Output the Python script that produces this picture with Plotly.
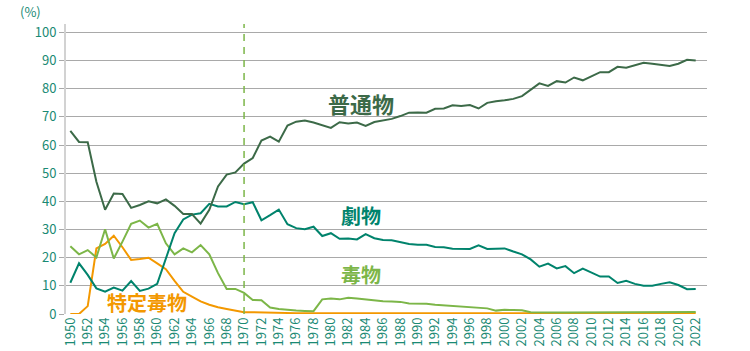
import plotly.graph_objects as go

years = list(range(1950, 2023))

futsu = [65, 61.1, 61, 47, 37, 42.8, 42.6, 37.7, 38.7, 40,
         39.3, 40.7, 38.4, 35.5, 35.5, 32.1, 37, 45.3, 49.5, 50.3,
         53.4, 55.4, 61.6, 63, 61.2, 66.9, 68.3, 68.7, 68, 67,
         66.1, 68.1, 67.7, 68, 66.8, 68.2, 68.8, 69.3, 70.3, 71.5,
         71.6, 71.5, 72.9, 73, 74.1, 73.9, 74.2, 73, 75, 75.6,
         75.9, 76.4, 77.4, 79.6, 81.9, 81, 82.7, 82.2, 84, 83,
         84.5, 85.9, 85.9, 87.8, 87.5, 88.4, 89.2, 88.9, 88.5, 88.1,
         88.9, 90.3, 90]

geki = [11.1, 18, 13.9, 9.1, 7.9, 9.4, 8.3, 11.7, 8.2, 9,
        10.7, 19.5, 28.7, 33.6, 35.3, 35.8, 39.1, 38.2, 38.2, 39.8,
        39, 39.7, 33.3, 35.1, 37.1, 31.9, 30.5, 30.1, 31, 27.7,
        28.7, 26.7, 26.8, 26.5, 28.4, 26.9, 26.3, 26.2, 25.6, 24.9,
        24.6, 24.6, 23.8, 23.7, 23.2, 23.2, 23.1, 24.4, 23.1, 23.2,
        23.3, 22.2, 21.2, 19.4, 16.8, 17.9, 16.2, 17, 14.5, 16.1,
        14.8, 13.3, 13.3, 11, 11.8, 10.7, 10, 10, 10.7, 11.3,
        10.3, 8.8, 8.9]

doku = [24.1, 21.2, 22.7, 20.1, 30.1, 19.7, 25.7, 32, 33.2, 30.7,
        32, 25.1, 21.2, 23.3, 21.9, 24.5, 21.2, 14.5, 8.9, 8.9,
        7.5, 5, 4.9, 2.3, 1.8, 1.4, 1.2, 1.1, 1, 5.2,
        5.5, 5.2, 5.8, 5.5, 5.1, 4.7, 4.5, 4.4, 4.3, 3.7,
        3.7, 3.6, 3.3, 3.1, 2.8, 2.6, 2.5, 2.3, 2, 1.2,
        1.5, 1.4, 1.3, 0.6, 0.5, 0.5, 0.5, 0.5, 0.5, 0.5,
        0.5, 0.5, 0.5, 0.5, 0.6, 0.6, 0.6, 0.6, 0.6, 0.7,
        0.7, 0.7, 0.7]

tokutei = [0, 0, 2.8, 23.3, 24.9, 27.8, 23.7, 19.2, 19.5, 20,
           18, 15.9, 11.8, 7.9, 6.2, 4.5, 3.3, 2.4, 1.8, 1.2,
           0.6, 0.6, 0.5, 0.4, 0.3, 0.3, 0.3, 0.3, 0.3, 0.3,
           0.3, 0.3, 0.3, 0.3, 0.3, 0.3, 0.3, 0.3, 0.3, 0.3,
           0.3, 0.3, 0.3, 0.3, 0.3, 0.3, 0.3, 0.3, 0.3, 0.3,
           0.3, 0.3, 0.3, 0.3, 0.3, 0.3, 0.3, 0.3, 0.3, 0.3,
           0.3, 0.3, 0.3, 0.3, 0.3, 0.3, 0.3, 0.3, 0.3, 0.3,
           0.3, 0.3, 0.3]

x_ticks = list(range(1950, 2023, 2))
y_ticks = list(range(0, 101, 10))

C_FUTSU = "#3c6a48"
C_GEKI = "#00836c"
C_DOKU = "#7cb648"
C_TOKU = "#f39800"
C_TICK = "#1a8a74"
FONT = "Noto Sans CJK JP"

fig = go.Figure()
for name, vals, col in [("特定毒物", tokutei, C_TOKU), ("毒物", doku, C_DOKU),
                        ("劇物", geki, C_GEKI), ("普通物", futsu, C_FUTSU)]:
    fig.add_trace(go.Scatter(x=years, y=vals, mode="lines", name=name,
                             line=dict(color=col, width=2), showlegend=False))

fig.add_shape(type="line", x0=1970, x1=1970, y0=0, y1=103, xref="x", yref="y",
              line=dict(color=C_DOKU, width=1.5, dash="7px,6px"), layer="above")

labels = [("普通物", 1983.5, 75, C_FUTSU, 22),
          ("劇物", 1983.5, 35, C_GEKI, 20),
          ("毒物", 1983.5, 14, C_DOKU, 20),
          ("特定毒物", 1958.8, 4.2, C_TOKU, 20)]
for txt, x, y, col, sz in labels:
    fig.add_annotation(x=x, y=y, text="<b>" + txt + "</b>", showarrow=False,
                       font=dict(family=FONT, size=sz, color=col))

fig.add_annotation(x=-0.056, y=1.083, xref="paper", yref="paper", text="(%)",
                   showarrow=False, xanchor="center", yanchor="top",
                   font=dict(family=FONT, size=13, color=C_TICK))

fig.update_layout(
    width=750, height=351,
    margin=dict(l=66, r=43, t=24, b=37),
    paper_bgcolor="white", plot_bgcolor="white",
    font=dict(family=FONT, color=C_TICK, size=13),
)

fig.update_xaxes(range=[1949.5, 2023.3], tickvals=x_ticks, ticktext=[str(v) for v in x_ticks],
                 tickangle=-90, showgrid=False, zeroline=False, showline=False,
                 automargin=False,
                 tickfont=dict(family=FONT, size=13, color=C_TICK), ticks="")
fig.update_yaxes(range=[0, 103], tickvals=y_ticks, showgrid=True, gridcolor="#a9a9a9",
                 gridwidth=1, zeroline=False, showline=True, linecolor="#d2d2d2", linewidth=2,
                 ticks="outside", ticklen=5, tickcolor="#a9a9a9", automargin=False,
                 tickfont=dict(family=FONT, size=13, color=C_TICK))

fig.write_html("out.html")
